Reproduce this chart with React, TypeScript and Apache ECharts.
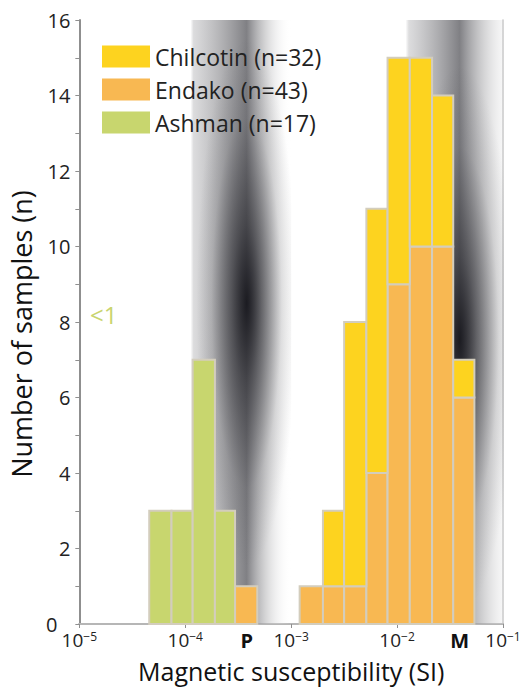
import React, { useEffect, useRef } from "react";
import * as echarts from "echarts";

// log10 bin edges (magnetic susceptibility, SI)
const binEdges = [-4.34, -4.13, -3.93, -3.72, -3.53, -3.32, -3.12, -2.92, -2.7, -2.5, -2.29, -2.09, -1.88, -1.67, -1.47, -1.27];
const ashman = [3, 3, 7, 3, 0, 0, 0, 0, 0, 0, 0, 0, 0, 0, 0];
const endako = [0, 0, 0, 0, 1, 0, 0, 1, 1, 1, 4, 9, 10, 10, 6];
const chilcotin = [0, 0, 0, 0, 0, 0, 0, 0, 2, 7, 7, 6, 5, 4, 1];
const seriesNames = ["Chilcotin (n=32)", "Endako (n=43)", "Ashman (n=17)"];
const seriesColors = ["#FDD31F", "#F8B852", "#C8D66E"];
const xTickExponents = [-5, -4, -3, -2, -1];
const refLabels = ["P", "M"];
const refCenters = [-3.42, -1.41];
const bandLo = [-3.95, -1.92];
const bandHi = [-3.0, -0.86];
const coreLo = [1.5, 0.3];
const coreHi = [15.5, 14.8];

const FONT = "'Open Sans', 'Noto Sans', sans-serif";

function buildBars(base: number[], vals: number[]) {
  const out: number[][] = [];
  vals.forEach((v, i) => {
    if (v > 0) out.push([binEdges[i], binEdges[i + 1], base[i], base[i] + v]);
  });
  return out;
}

function barRender(color: string) {
  return (params: any, api: any) => {
    const p0 = api.coord([api.value(0), api.value(2)]);
    const p1 = api.coord([api.value(1), api.value(3)]);
    return {
      type: "rect",
      shape: { x: p0[0], y: p1[1], width: p1[0] - p0[0], height: p0[1] - p1[1] },
      style: { fill: color, stroke: "#d3cdbd", lineWidth: 2 },
    };
  };
}

export default function App() {
  const ref = useRef<HTMLDivElement>(null);
  useEffect(() => {
    document.body.style.margin = "0";
    const chart = echarts.init(ref.current!, null, { renderer: "svg" });
    const zeros = endako.map(() => 0);
    const bandData = bandLo.map((lo, i) => [lo, bandHi[i], refCenters[i], coreLo[i], coreHi[i]]);
    const option: any = {
      animation: false,
      grid: { left: 76, right: 23, top: 20, bottom: 63 },
      legend: {
        orient: "vertical",
        left: 102,
        top: 45,
        padding: 0,
        itemWidth: 48,
        itemHeight: 22,
        itemGap: 10,
        selectedMode: false,
        textStyle: { fontSize: 23, color: "#222", fontFamily: FONT },
        data: seriesNames.map((n, i) => ({ name: n, icon: "rect", itemStyle: { color: seriesColors[i] } })),
      },
      xAxis: [
        {
          type: "value",
          min: -5,
          max: -1,
          interval: 1,
          name: "Magnetic susceptibility (SI)",
          nameLocation: "middle",
          nameGap: 34,
          nameTextStyle: { fontSize: 25, color: "#111", fontFamily: FONT },
          axisLine: { lineStyle: { color: "#8f8f8f", width: 2 } },
          axisTick: { show: true, length: 4, lineStyle: { color: "#8f8f8f" } },
          splitLine: { show: false },
          axisLabel: {
            margin: 6,
            formatter: (v: number) => {
              const e = xTickExponents.find((t) => t === Math.round(v));
              return `{b|10}{s|−${Math.abs(e as number)}}`;
            },
            rich: {
              b: { fontSize: 19, color: "#222", fontFamily: FONT, lineHeight: 20 },
              s: { fontSize: 12, color: "#222", fontFamily: FONT, verticalAlign: "top", lineHeight: 12 },
            },
          },
        },
        {
          type: "value",
          position: "top",
          min: -5,
          max: -1,
          axisLine: { show: true, lineStyle: { color: "#c4c4c4", width: 1.5 } },
          axisTick: { show: false },
          axisLabel: { show: false },
          splitLine: { show: false },
        },
      ],
      yAxis: [
        {
          type: "value",
          min: 0,
          max: 16,
          interval: 2,
          name: "Number of samples (n)",
          nameLocation: "middle",
          nameGap: 40,
          nameTextStyle: { fontSize: 27, color: "#111", fontFamily: FONT, padding: [0, 24, 0, 0] },
          axisLine: { show: true, lineStyle: { color: "#8f8f8f", width: 2 } },
          axisTick: { show: true, length: 4, lineStyle: { color: "#8f8f8f" } },
          minorTick: { show: true, splitNumber: 2, length: 4, lineStyle: { color: "#8f8f8f" } },
          splitLine: { show: false },
          axisLabel: {
            fontSize: 20,
            color: "#222",
            margin: 9,
            fontFamily: FONT,
            formatter: (v: number) => (v === 0 ? "{z|0}" : String(v)),
            rich: { z: { fontSize: 20, color: "#222", fontFamily: FONT, padding: [0, 13, 0, 0] } },
          },
        },
        {
          type: "value",
          position: "right",
          min: 0,
          max: 16,
          axisLine: { show: true, lineStyle: { color: "#c4c4c4", width: 1.5 } },
          axisTick: { show: false },
          axisLabel: { show: false },
          splitLine: { show: false },
        },
      ],
      series: [
        {
          type: "custom",
          name: "bands",
          clip: true,
          z: 1,
          silent: true,
          data: bandData,
          encode: { x: [0, 1] },
          renderItem: (params: any, api: any) => {
            const lo = api.value(0), hi = api.value(1), c = api.value(2);
            const cl = api.value(3), ch = api.value(4);
            const p0 = api.coord([lo, 16]);
            const p1 = api.coord([hi, 0]);
            const q0 = api.coord([lo, ch]);
            const q1 = api.coord([hi, cl]);
            const f = (c - lo) / (hi - lo);
            const shape = { x: p0[0], y: p0[1], width: p1[0] - p0[0], height: p1[1] - p0[1] };
            const core = { x: q0[0], y: q0[1], width: q1[0] - q0[0], height: q1[1] - q0[1] };
            return {
              type: "group",
              children: [
                {
                  type: "rect",
                  shape,
                  style: {
                    fill: new echarts.graphic.LinearGradient(0, 0, 1, 0, [
                      { offset: 0, color: "rgba(205,205,207,0)" },
                      { offset: 0.03, color: "rgba(205,205,207,0.7)" },
                      { offset: f, color: "rgba(128,128,132,1)" },
                      { offset: 1, color: "rgba(255,255,255,0)" },
                    ]),
                  },
                },
                {
                  type: "rect",
                  shape: core,
                  style: {
                    fill: new echarts.graphic.RadialGradient(f, 0.5, 0.5, [
                      { offset: 0, color: "rgba(22,22,28,0.95)" },
                      { offset: 0.3, color: "rgba(22,22,28,0.55)" },
                      { offset: 0.7, color: "rgba(22,22,28,0.12)" },
                      { offset: 1, color: "rgba(22,22,28,0)" },
                    ]),
                  },
                },
              ],
            };
          },
        },
        {
          type: "custom",
          name: seriesNames[1],
          z: 3,
          itemStyle: { color: seriesColors[1] },
          data: buildBars(zeros, endako),
          encode: { x: [0, 1], y: [2, 3] },
          renderItem: barRender(seriesColors[1]),
        },
        {
          type: "custom",
          name: seriesNames[0],
          z: 3,
          itemStyle: { color: seriesColors[0] },
          data: buildBars(endako, chilcotin),
          encode: { x: [0, 1], y: [2, 3] },
          renderItem: barRender(seriesColors[0]),
        },
        {
          type: "custom",
          name: seriesNames[2],
          z: 3,
          itemStyle: { color: seriesColors[2] },
          data: buildBars(zeros, ashman),
          encode: { x: [0, 1], y: [2, 3] },
          renderItem: barRender(seriesColors[2]),
        },
        {
          type: "custom",
          name: "refs",
          z: 4,
          silent: true,
          clip: false,
          data: refCenters.map((c, i) => [c, 0, i]),
          encode: { x: 0, y: 1 },
          renderItem: (params: any, api: any) => {
            const p = api.coord([api.value(0), 0]);
            return {
              type: "text",
              x: p[0],
              y: p[1] + 6,
              style: {
                text: refLabels[params.dataIndex],
                fontSize: 20,
                fontWeight: "bold",
                fontFamily: FONT,
                fill: "#111",
                align: "center",
                verticalAlign: "top",
              },
            };
          },
        },
      ],
      graphic: [
        {
          type: "text",
          left: 90,
          top: 302,
          style: { text: "<1", fontSize: 24, fill: "#c9d46e", fontFamily: FONT },
        },
      ],
    };
    chart.setOption(option);
    return () => chart.dispose();
  }, []);
  return <div ref={ref} style={{ width: 526, height: 688 }} />;
}
